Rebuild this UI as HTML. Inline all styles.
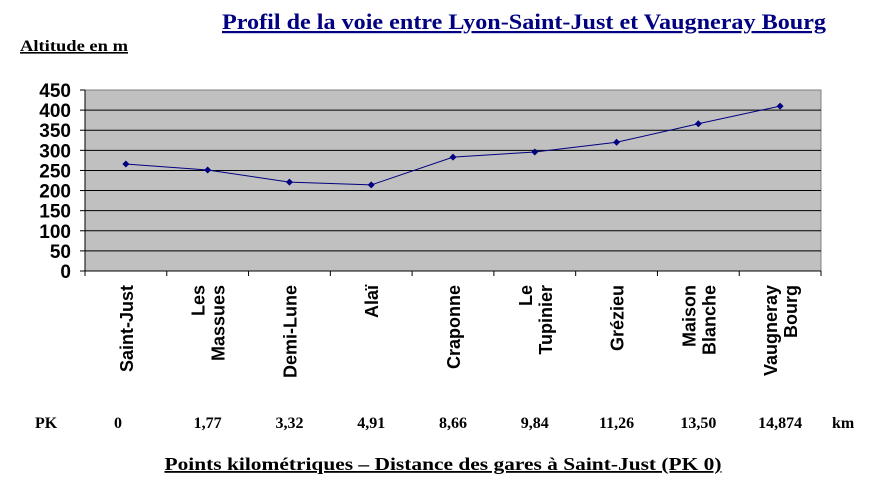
<!DOCTYPE html>
<html><head><meta charset="utf-8"><style>
html,body{margin:0;padding:0;background:#fff;width:876px;height:492px;overflow:hidden}
svg{display:block}
</style></head><body>
<svg id="chart" width="876" height="492" xmlns="http://www.w3.org/2000/svg">
<text x="524" y="29" text-anchor="middle" font-family="Liberation Serif, serif" font-weight="bold" font-size="22" textLength="604" lengthAdjust="spacingAndGlyphs" fill="#000080" text-decoration="underline">Profil de la voie entre Lyon-Saint-Just et Vaugneray Bourg</text>
<text x="20" y="51" font-family="Liberation Serif, serif" font-weight="bold" font-size="16" textLength="108" lengthAdjust="spacingAndGlyphs" fill="#000" text-decoration="underline">Altitude en m</text>
<rect x="85" y="90" width="736" height="181" fill="#c0c0c0" stroke="#808080" stroke-width="1"/>
<g id="grid"></g><g id="yticks"></g><g id="xticks"></g><g id="series"></g><g id="pk"></g>
<text x="443" y="470" text-anchor="middle" font-family="Liberation Serif, serif" font-weight="bold" font-size="18" textLength="557" lengthAdjust="spacingAndGlyphs" text-decoration="underline" fill="#000">Points kilométriques – Distance des gares à Saint-Just (PK 0)</text>
</svg>
<script>
const categories = [["Saint-Just"],["Les","Massues"],["Demi-Lune"],["Alaï"],["Craponne"],["Le","Tupinier"],["Grézieu"],["Maison","Blanche"],["Vaugneray","Bourg"]];
const altitudes = [266,251,221,214,283,296,320,366,410];
const pkLabels = ["0","1,77","3,32","4,91","8,66","9,84","11,26","13,50","14,874"];
const yTicks = [0,50,100,150,200,250,300,350,400,450];
const NS="http://www.w3.org/2000/svg";
const X0=85,X1=821,Y0=271,Y1=90,YMAX=450;
const bw=(X1-X0)/categories.length;
const xc=i=>X0+bw*(i+0.5);
const ys=v=>Y0-(v/YMAX)*(Y0-Y1);
function mk(tag,attrs,parent){const e=document.createElementNS(NS,tag);for(const k in attrs)e.setAttribute(k,attrs[k]);parent.appendChild(e);return e;}
const grid=document.getElementById('grid'),yt=document.getElementById('yticks'),xt=document.getElementById('xticks'),se=document.getElementById('series'),pk=document.getElementById('pk');
yTicks.forEach(v=>{
  const y=ys(v);
  if(v>0&&v<YMAX){const l=mk('line',{x1:X0,x2:X1,y1:y,y2:y,stroke:'#000','stroke-width':1},grid);
  
  }
  mk('line',{x1:X0-5,x2:X0,y1:y,y2:y,stroke:'#000'},yt);
  const t=mk('text',{x:X0-14,y:y+7,'text-anchor':'end','font-family':'Liberation Sans, sans-serif','font-weight':'bold','font-size':'19'},yt);
  t.textContent=v;
  
  
});
mk('line',{x1:X0,x2:X0,y1:Y1,y2:Y0,stroke:'#000'},yt);
mk('line',{x1:X0,x2:X1,y1:Y0,y2:Y0,stroke:'#000'},yt);
for(let i=0;i<=categories.length;i++){const x=X0+bw*i;mk('line',{x1:x,x2:x,y1:Y0,y2:Y0+5,stroke:'#000'},xt);}
categories.forEach((lines,i)=>{
  const n=lines.length;
  lines.forEach((s,j)=>{
    const x=xc(i)+(j-(n-1)/2)*20+7;
    const t=mk('text',{x:0,y:0,transform:`translate(${x},285) rotate(-90)`,'text-anchor':'end','font-family':'Liberation Sans, sans-serif','font-weight':'bold','font-size':'18'},xt);
    t.textContent=s;
    
    
  });
});
const pts=altitudes.map((v,i)=>xc(i)+','+ys(v)).join(' ');
const pl=mk('polyline',{points:pts,fill:'none',stroke:'#000080','stroke-width':1},se);


altitudes.forEach((v,i)=>{
  const x=xc(i),y=ys(v);
  const m=mk('polygon',{points:`${x},${y-3.5} ${x+3.5},${y} ${x},${y+3.5} ${x-3.5},${y}`,fill:'#000080'},se);
  
  
});
const pkT=mk('text',{x:35,y:428,'font-family':'Liberation Serif, serif','font-weight':'bold','font-size':'16'},pk);
pkT.textContent='PK';


pkLabels.forEach((s,i)=>{
  const t=mk('text',{x:i===0?114:xc(i),y:428,'text-anchor':i===0?'start':'middle','font-family':'Liberation Serif, serif','font-weight':'bold','font-size':'16'},pk);
  t.textContent=s;
  
  
});
const km=mk('text',{x:832,y:428,'font-family':'Liberation Serif, serif','font-weight':'bold','font-size':'16'},pk);
km.textContent='km';


</script>
</body></html>
